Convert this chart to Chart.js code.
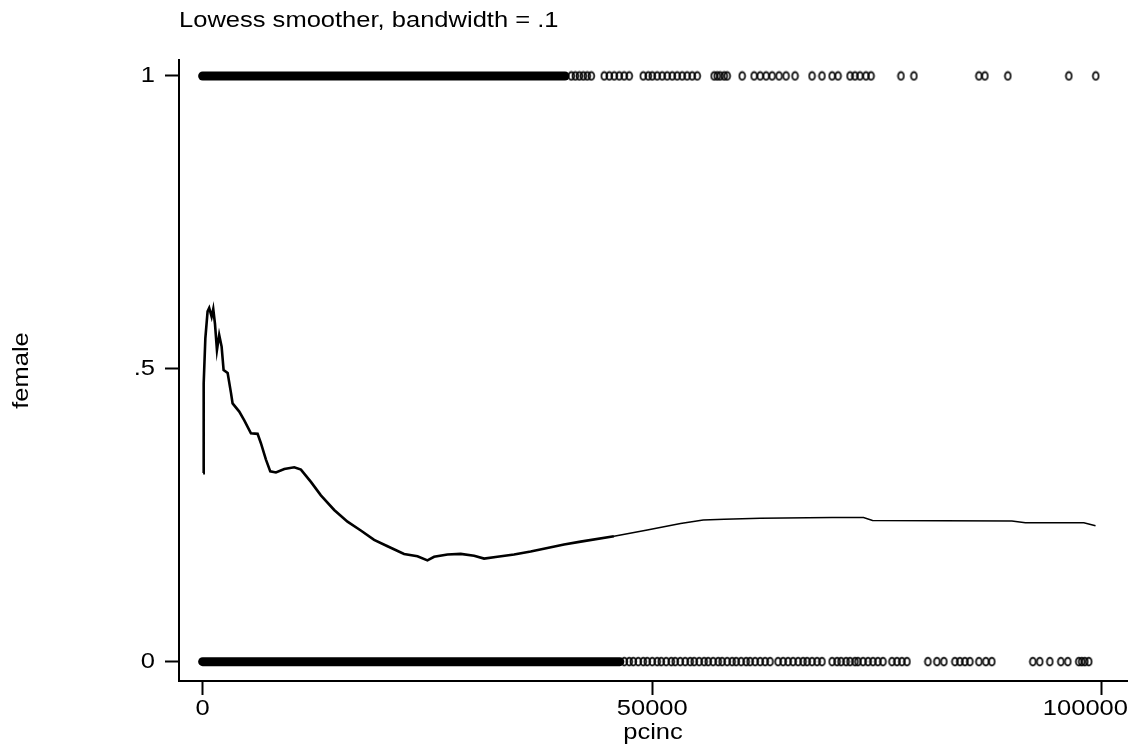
<!DOCTYPE html>
<html>
<head>
<meta charset="utf-8">
<script src="https://cdn.jsdelivr.net/npm/chart.js@4/dist/chart.umd.min.js"></script>
<style>
  body { margin: 0; background: #fff; }
  #wrap { width: 1134px; height: 749px; }
</style>
</head>
<body>
<div id="wrap"><canvas id="lowess-chart" width="1134" height="749"></canvas></div>
<script>
// lowess smoother (pcinc -> female)
const smoothX = [50, 80, 150, 300, 550, 730, 1000, 1180, 1370, 1590, 1840, 2110, 2330, 2780, 3150, 3330,
    4070, 4630, 5370, 6110, 6480, 7040, 7520, 8150, 9080, 10190, 10930, 12040, 13150, 14630, 16110,
    17590, 19070, 20560, 22400, 23890, 25000, 25740, 27230, 28700, 30190, 31300, 32780, 34630, 36480,
    38340, 40190, 42040, 45740, 49450, 53150, 55670, 58000, 62000, 70000, 73500, 74500, 90000, 91500,
    98000, 99300];
const smoothY = [.322, .384, .475, .552, .598, .604, .589, .602, .577, .532, .558, .538, .498, .493, .459, .441,
    .427, .412, .390, .389, .373, .345, .325, .323, .329, .332, .328, .307, .284, .259, .239,
    .224, .208, .197, .184, .180, .173, .179, .183, .184, .181, .176, .179, .183, .188,
    .194, .200, .205, .214, .225, .236, .242, .243, .245, .246, .246, .241, .240, .237,
    .237, .232];

// observations: where the markers pile up into a solid band only the ends are kept
const denseOneX = [0, 40300];
const denseZeroX = [0, 46400];
const femaleOneX = [41000, 41440, 41890, 42330, 42770, 43220, 44660, 45220, 45770, 46330, 46880, 47440,
    49000, 49550, 50000, 50550, 51100, 51660, 52220, 52770, 53330, 53880, 54440, 55000,
    56880, 57220, 57550, 58000, 58330, 60000, 61330, 62000, 62660, 63330, 64100, 64880, 65880,
    67770, 68880, 70000, 70660, 72000, 72550, 73100, 73770, 74330, 77660, 79100,
    86330, 87000, 89550, 96330, 99330];
const femaleZeroX = [46890, 47440, 47890, 48440, 49000, 49440, 50000, 50550, 51000, 51550, 52110, 52550,
    53110, 53660, 54220, 54660, 55220, 55770, 56220, 56770, 57330, 57770, 58330, 58880, 59330,
    59880, 60440, 60880, 61440, 62000, 62550, 63100, 63990, 64550, 65100, 65660, 66220, 66770,
    67220, 67770, 68330, 68880, 70000, 70550, 71000, 71550, 72000, 72550, 72880,
    73440, 74000, 74550, 75100, 75660, 76660, 77220, 77770, 78330, 80660, 81660, 82440,
    83660, 84220, 84770, 85330, 86330, 87100, 87770, 92330, 93100, 94220, 95440, 96220,
    97440, 97770, 98110, 98550];

const xTicks = [0, 50000, 100000];
const xTickLabels = ['0', '50000', '100000'];
const yTicks = [0, .5, 1];
const yTickLabels = ['0', '.5', '1'];

const FONT = '"Liberation Sans", Arial, sans-serif';
const FONT_SIZE = 22;
const STRETCH = 1.16; // stata's text comes out a bit wider than plain arial

const canvas = document.getElementById('lowess-chart');
const ctx = canvas.getContext('2d');

// draw all text slightly stretched, and keep horizontal labels inside the canvas
const plainFillText = ctx.fillText;
ctx.fillText = function (text, x, y) {
    const t = this.getTransform();
    const w = this.measureText(text).width * STRETCH;
    if (t.b === 0 && t.c === 0) {
        let left = x;
        if (this.textAlign === 'center') left = x - w / 2;
        else if (this.textAlign === 'right' || this.textAlign === 'end') left = x - w;
        const over = t.e + t.a * (left + w) - (this.canvas.width - 6);
        if (over > 0) x -= over / t.a;
    }
    this.save();
    this.translate(x, y);
    this.scale(STRETCH, 1);
    plainFillText.call(this, text, 0, 0);
    this.restore();
};

// hollow ellipse marker like stata's O
const marker = document.createElement('canvas');
marker.width = 9;
marker.height = 11;
(function () {
    const c = marker.getContext('2d');
    c.strokeStyle = '#000';
    c.lineWidth = 1.7;
    c.beginPath();
    c.ellipse(4.5, 5.5, 2.9, 3.8, 0, 0, Math.PI * 2);
    c.stroke();
})();

const topNote = {
    id: 'topNote',
    afterDraw(chart) {
        const c = chart.ctx;
        c.save();
        c.font = FONT_SIZE + 'px ' + FONT;
        c.fillStyle = '#000';
        c.textBaseline = 'middle';
        c.textAlign = 'left';
        c.fillText('Lowess smoother, bandwidth = .1', chart.chartArea.left, 21);
        c.restore();
    }
};

const pts = (xs, y) => xs.map(x => ({x: x, y: y}));

new Chart(ctx, {
    type: 'scatter',
    data: {
        datasets: [
            {
                label: 'lowess',
                data: smoothX.map((x, i) => ({x: x, y: smoothY[i]})),
                showLine: true,
                borderColor: '#000',
                borderWidth: 2.2,
                pointRadius: 0,
                tension: 0,
                segment: {
                    borderWidth: c => c.p0.parsed.x < 45000 ? 2.6 : 1.5
                }
            },
            {
                label: 'dense1',
                data: pts(denseOneX, 1),
                showLine: true,
                borderColor: '#000',
                borderWidth: 9,
                borderCapStyle: 'round',
                pointRadius: 0
            },
            {
                label: 'dense0',
                data: pts(denseZeroX, 0),
                showLine: true,
                borderColor: '#000',
                borderWidth: 9,
                borderCapStyle: 'round',
                pointRadius: 0
            },
            {
                label: 'female=1',
                data: pts(femaleOneX, 1),
                pointStyle: marker,
                pointRadius: 4
            },
            {
                label: 'female=0',
                data: pts(femaleZeroX, 0),
                pointStyle: marker,
                pointRadius: 4
            }
        ]
    },
    options: {
        responsive: false,
        animation: false,
        layout: { padding: { top: 60, right: 7, left: 0, bottom: 0 } },
        plugins: {
            legend: { display: false },
            tooltip: { enabled: false }
        },
        scales: {
            x: {
                type: 'linear',
                min: -2630,
                max: 102800,
                afterBuildTicks: s => { s.ticks = xTicks.map(v => ({value: v})); },
                afterFit: s => { s.height = 68; s.paddingLeft = 0; s.paddingRight = 0; },
                border: { display: true, color: '#000', width: 2 },
                grid: { drawOnChartArea: false, drawTicks: true, tickLength: 14, tickWidth: 2, tickColor: '#000' },
                ticks: {
                    color: '#000',
                    font: { family: FONT, size: FONT_SIZE },
                    padding: 1,
                    maxRotation: 0,
                    callback: v => xTickLabels[xTicks.indexOf(v)]
                },
                title: {
                    display: true,
                    text: 'pcinc',
                    color: '#000',
                    font: { family: FONT, size: FONT_SIZE },
                    padding: { top: 0, bottom: 3 }
                }
            },
            y: {
                type: 'linear',
                min: -0.033,
                max: 1.0273,
                afterBuildTicks: s => { s.ticks = yTicks.map(v => ({value: v})); },
                afterFit: s => { s.width = 179; s.paddingTop = 0; s.paddingBottom = 0; },
                border: { display: true, color: '#000', width: 2 },
                grid: { drawOnChartArea: false, drawTicks: true, tickLength: 14, tickWidth: 2, tickColor: '#000' },
                ticks: {
                    color: '#000',
                    font: { family: FONT, size: FONT_SIZE },
                    padding: 10,
                    callback: v => yTickLabels[yTicks.indexOf(v)]
                },
                title: {
                    display: true,
                    text: 'female',
                    color: '#000',
                    font: { family: FONT, size: FONT_SIZE },
                    padding: { top: 9, bottom: 0 }
                }
            }
        }
    },
    plugins: [topNote]
});
</script>
</body>
</html>
